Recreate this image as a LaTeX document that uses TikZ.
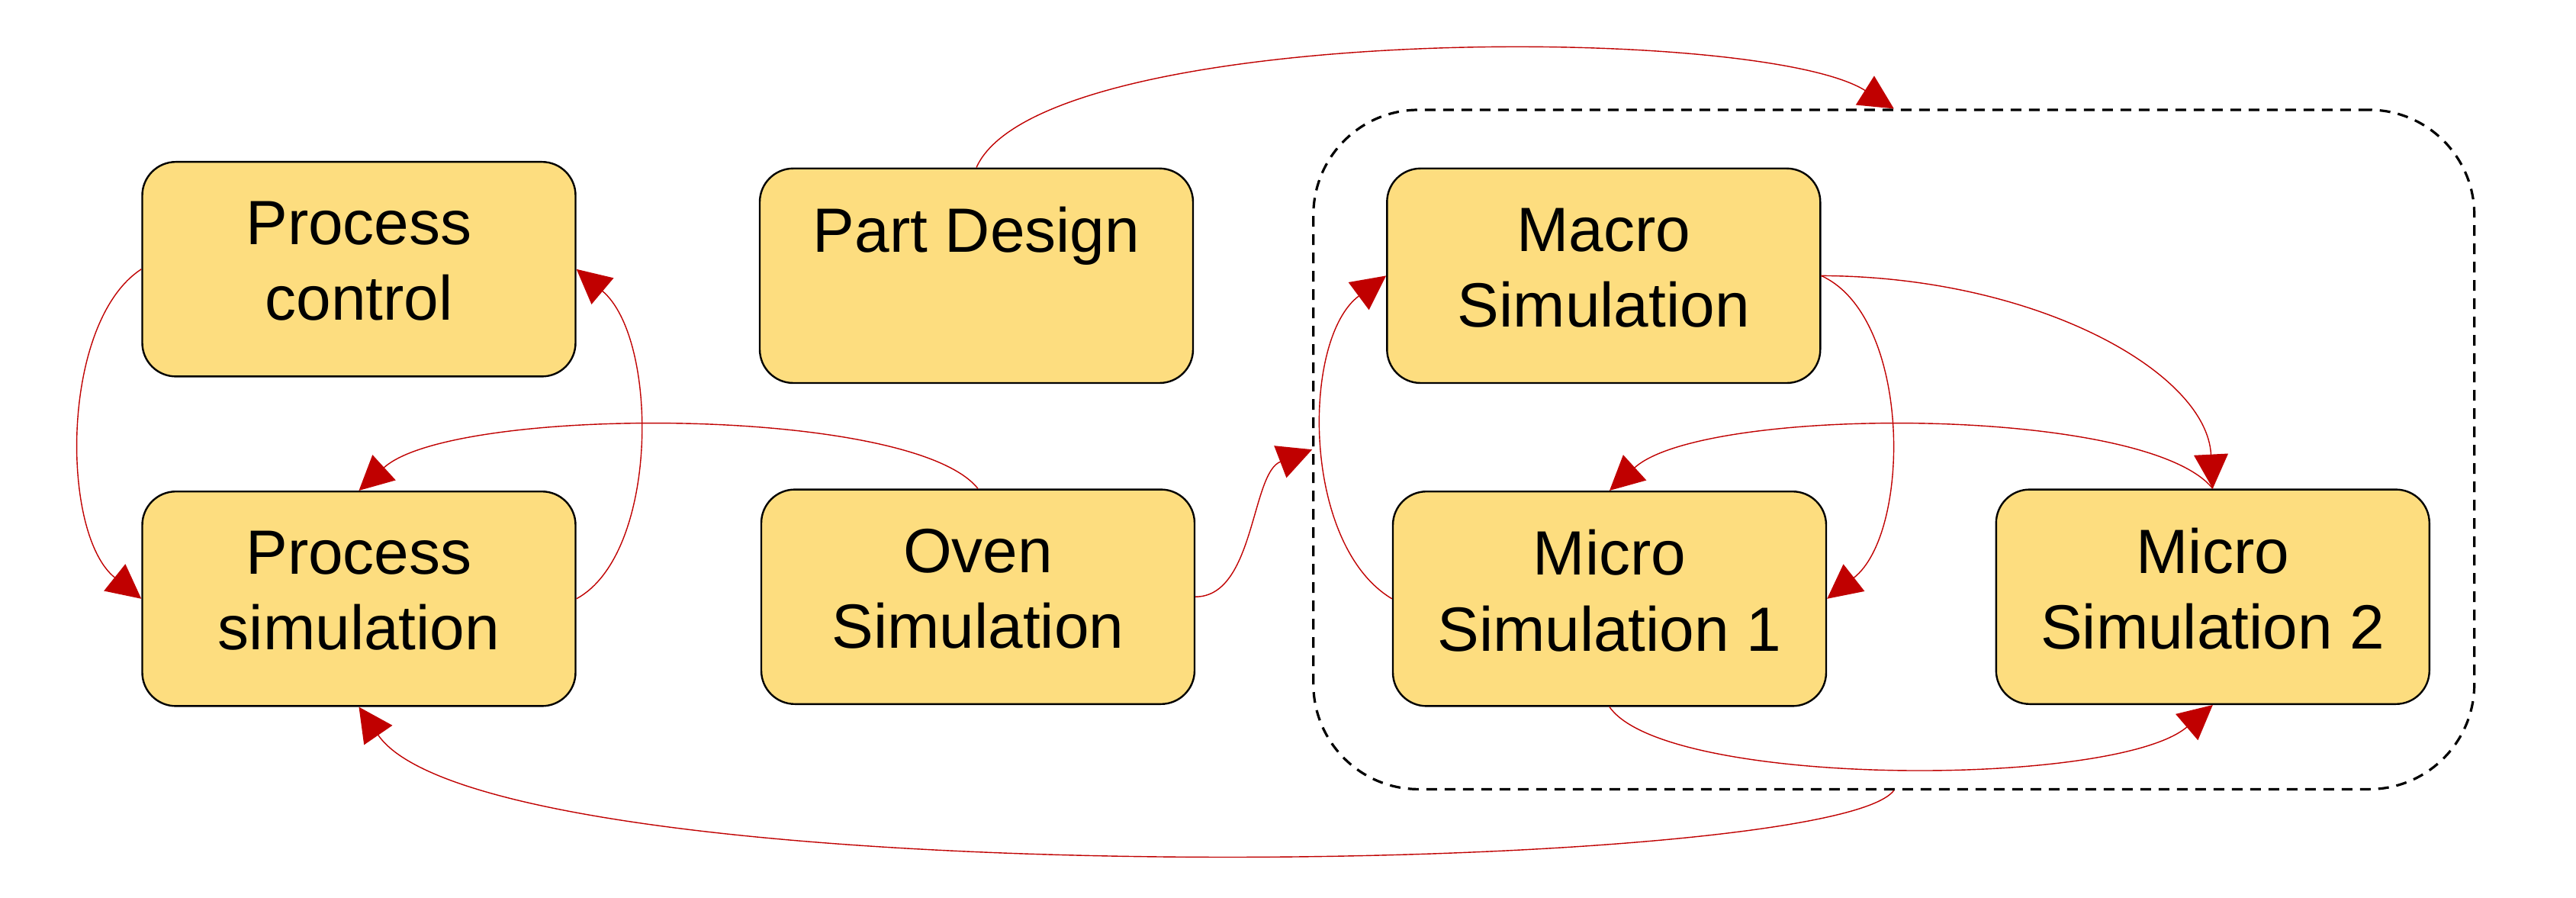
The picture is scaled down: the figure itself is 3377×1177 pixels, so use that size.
\documentclass[tikz,border=0pt]{standalone}
\usepackage{fontspec}
\setmainfont{Liberation Sans}
\usetikzlibrary{arrows.meta}
\definecolor{boxfill}{HTML}{FDDD7F}
\definecolor{linkred}{HTML}{C00000}
\newcommand{\lowstrut}{\rule[-5.5pt]{0pt}{5.5pt}}
\begin{document}
\begin{tikzpicture}[x=0.25pt, y=-0.25pt,
  box/.style={draw=black, line width=0.6pt, fill=boxfill, rounded corners=11pt,
    minimum width=142pt, minimum height=70.3pt, inner sep=0pt, align=center,
    font=\fontsize{20.5pt}{24.8pt}\selectfont},
  link/.style={draw=linkred, line width=0.35pt, -{Triangle[length=11.2pt,width=11.2pt]}},
  group/.style={draw=black, line width=0.8pt, dash pattern=on 3.5pt off 2.5pt,
    rounded corners=34.5pt, minimum width=380.5pt, minimum height=222.6pt, inner sep=0pt}]
\useasboundingbox (0,0) rectangle (3377,1177);
\fill[white] (0,0) rectangle (3377,1177);
\node[group] (grp) at (2482.75,589.2) {};
\node[box] (pc) at (470.5,352.8) {Process\\control\lowstrut};
\node[box] (ps) at (470.5,784.8) {Process\\simulation\lowstrut};
\node[box] (pd) at (1280,361.4) {Part Design\\\mbox{}\lowstrut};
\node[box] (os) at (1282,782.2) {Oven\\Simulation\lowstrut};
\node[box] (ma) at (2102.3,361.4) {Macro\\Simulation\lowstrut};
\node[box] (m1) at (2110,784.8) {Micro\\Simulation 1\lowstrut};
\node[box] (m2) at (2900.8,782.2) {Micro\\Simulation 2\lowstrut};
\draw[link] (pc.west) .. controls (79,422) and (79,700) .. (ps.west);
\draw[link] (ps.east) .. controls (864,726) and (864,444) .. (pc.east);
\draw[link] (os.north) .. controls (1195,531) and (593,531) .. (ps.north);
\draw[link] (pd.north) .. controls (1364,30) and (2305,30) .. (grp.north);
\draw[link] (os.east) .. controls (1645,782) and (1640,620) .. (grp.west);
\draw[link] (m1.west) .. controls (1706,714) and (1706,444) .. (ma.west);
\draw[link] (ma.east) .. controls (2506,415) and (2506,698) .. (m1.east);
\draw[link] (ma.east) .. controls (2670,362.5) and (2893,488) .. (m2.north);
\draw[link] (m2.north) .. controls (2813,531) and (2233,531) .. (m1.north);
\draw[link] (m1.south) .. controls (2184,1033) and (2773,1033) .. (m2.south);
\draw[link] (grp.south) .. controls (2398,1150) and (643,1178) .. (ps.south);
\end{tikzpicture}
\end{document}
